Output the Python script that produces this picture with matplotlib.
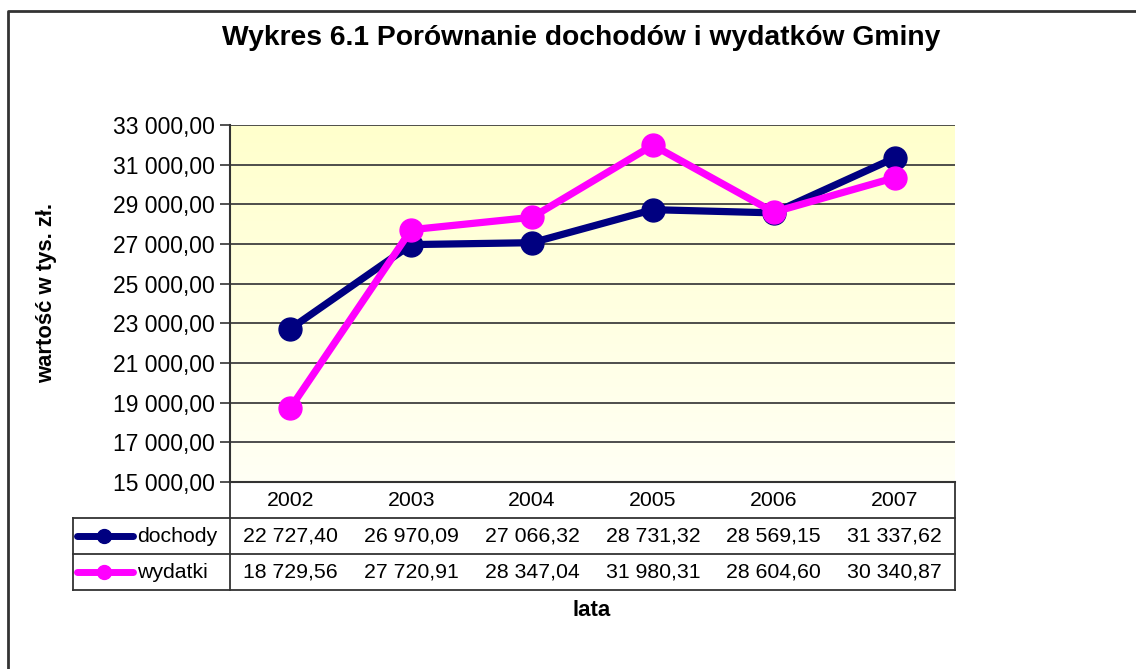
import numpy as np
import matplotlib
matplotlib.use('Agg')
import matplotlib.pyplot as plt
from matplotlib.transforms import blended_transform_factory

plt.rcParams['font.family'] = ['Liberation Sans', 'DejaVu Sans']

# Data
years = ['2002', '2003', '2004', '2005', '2006', '2007']
dochody = [22727.40, 26970.09, 27066.32, 28731.32, 28569.15, 31337.62]
wydatki = [18729.56, 27720.91, 28347.04, 31980.31, 28604.60, 30340.87]
series_names = ['dochody', 'wydatki']
series_colors = ['#000080', '#FF00FF']
y_ticks = list(range(15000, 33001, 2000))


def pl_fmt(v):
    return f"{v:,.2f}".replace(",", " ").replace(".", ",")


W, H = 1136, 669
fig = plt.figure(figsize=(W / 100, H / 100), dpi=100)

# overlay in pixel coordinates (frame, table, labels)
ov = fig.add_axes([0, 0, 1, 1])
ov.set_xlim(0, W)
ov.set_ylim(H, 0)
ov.axis('off')

# plot area: x 230..955, y 125..482
L, R, T, B = 230, 955, 125, 482
ax = fig.add_axes([L / W, 1 - B / H, (R - L) / W, (B - T) / H])

x = np.arange(len(years))
ax.set_xlim(-0.5, len(years) - 0.5)
ax.set_ylim(15000, 33000)

# yellow gradient background
grad = np.linspace(0, 1, 256).reshape(-1, 1)
top = np.array([1.0, 1.0, 0.80])
bot = np.array([1.0, 1.0, 0.96])
img = top * (1 - grad[..., None]) + bot * grad[..., None]
ax.imshow(img, extent=[-0.5, len(years) - 0.5, 15000, 33000], aspect='auto', zorder=0)

for yv in y_ticks[1:]:
    ax.axhline(yv, color='#404040', lw=1.3, zorder=1)

for vals, name, col in zip([dochody, wydatki], series_names, series_colors):
    ax.plot(x, vals, color=col, lw=5.2, marker='o', ms=16.5, zorder=3,
            solid_capstyle='round')

ax.set_yticks(y_ticks)
ax.set_yticklabels([pl_fmt(v) for v in y_ticks], fontsize=16.5)
ax.tick_params(axis='y', length=7, width=1.2, color='#333333', pad=4)
ax.set_xticks([])
for s in ['top', 'right']:
    ax.spines[s].set_visible(False)
ax.spines['left'].set_color('#333333')
ax.spines['left'].set_linewidth(1.5)
ax.spines['bottom'].set_color('#333333')
ax.spines['bottom'].set_linewidth(1.5)

# title and axis labels
ov.text(581, 38, 'Wykres 6.1 Porównanie dochodów i wydatków Gminy',
        ha='center', va='center', fontsize=20.3, fontweight='bold')
ov.text(47, 293, 'wartość w tys. zł.', ha='center', va='center',
        rotation=90, fontsize=15.8, fontweight='bold')
ov.text(592, 611, 'lata', ha='center', va='center', fontsize=16, fontweight='bold')

# outer frame
ov.plot([8, 8, W + 5], [H + 5, 11, 11], color='#333333', lw=2, clip_on=False)

# data table
lc = '#333333'
ov.plot([L, L], [B, 590], color=lc, lw=1.3)
ov.plot([R, R], [B, 590], color=lc, lw=1.3)
ov.plot([73, 73], [518, 590], color=lc, lw=1.3)
for yy in [518, 554, 590]:
    ov.plot([73, R], [yy, yy], color=lc, lw=1.3)

tr = blended_transform_factory(ax.transData, ov.transData)
for i, yr in enumerate(years):
    ov.text(i, 500, yr, transform=tr, ha='center', va='center', fontsize=15.3)

row_y = [536, 572]
for vals, name, col, yy in zip([dochody, wydatki], series_names, series_colors, row_y):
    ov.plot([77, 133], [yy, yy], color=col, lw=5, solid_capstyle='round')
    ov.plot([104], [yy], marker='o', ms=10, color=col)
    ov.text(137, yy + 1, name, ha='left', va='center', fontsize=15.3)
    for i, v in enumerate(vals):
        ov.text(i, yy, pl_fmt(v), transform=tr, ha='center', va='center', fontsize=15.3)

fig.savefig('out.png', dpi=100)
